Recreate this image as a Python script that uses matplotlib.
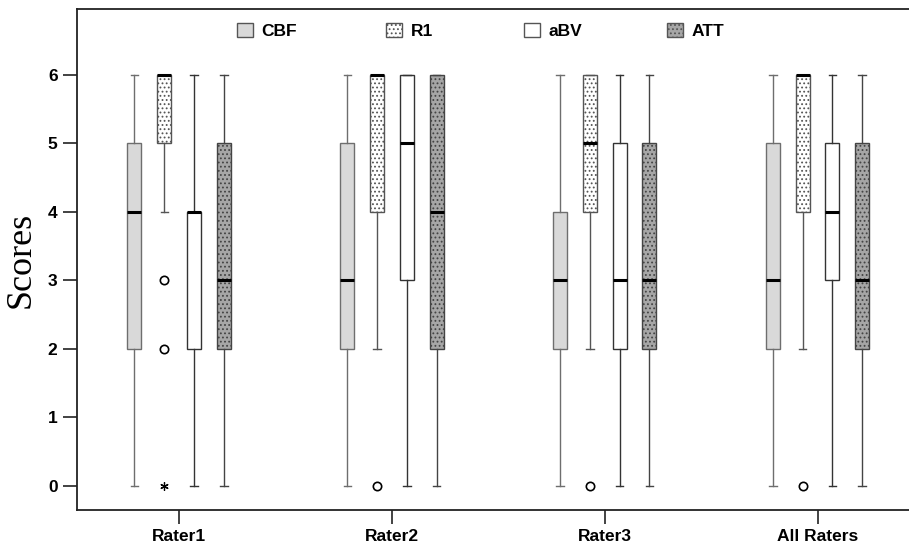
import matplotlib
matplotlib.use("Agg")
import matplotlib.pyplot as plt
from matplotlib.patches import Patch

groups = ["Rater1", "Rater2", "Rater3", "All Raters"]
series = ["CBF", "R1", "aBV", "ATT"]

# per series: lists across groups
whislo = {"CBF": [0, 0, 0, 0], "R1": [4, 2, 2, 2], "aBV": [0, 0, 0, 0], "ATT": [0, 0, 0, 0]}
q1 = {"CBF": [2, 2, 2, 2], "R1": [5, 4, 4, 4], "aBV": [2, 3, 2, 3], "ATT": [2, 2, 2, 2]}
med = {"CBF": [4, 3, 3, 3], "R1": [6, 6, 5, 6], "aBV": [4, 5, 3, 4], "ATT": [3, 4, 3, 3]}
q3 = {"CBF": [5, 5, 4, 5], "R1": [6, 6, 6, 6], "aBV": [4, 6, 5, 5], "ATT": [5, 6, 5, 5]}
whishi = {"CBF": [6, 6, 6, 6], "R1": [6, 6, 6, 6], "aBV": [6, 6, 6, 6], "ATT": [6, 6, 6, 6]}
outliers = {"CBF": [[], [], [], []], "R1": [[3, 2], [0], [0], [0]],
            "aBV": [[], [], [], []], "ATT": [[], [], [], []]}
extremes = {"R1": [[0], [], [], []]}

face = {"CBF": "#d9d9d9", "R1": "#ffffff", "aBV": "#ffffff", "ATT": "#a6a6a6"}
hatch = {"CBF": None, "R1": "....", "aBV": None, "ATT": "...."}
edge = {"CBF": "#6e6e6e", "R1": "#555555", "aBV": "#333333", "ATT": "#444444"}
offsets = [-0.21, -0.07, 0.07, 0.21]
legend_x_px = [237, 386, 524, 667]

plt.rcParams['hatch.linewidth'] = 0.8
W, H = 909, 547
fig = plt.figure(figsize=(W/100, H/100), dpi=100)
ax = fig.add_axes([77/W, 1-510/H, 1-77/W, (510-9)/H])

for si, s in enumerate(series):
    stats = []
    for gi in range(len(groups)):
        stats.append(dict(whislo=whislo[s][gi], q1=q1[s][gi], med=med[s][gi],
                          q3=q3[s][gi], whishi=whishi[s][gi], fliers=outliers[s][gi]))
    pos = [gi + offsets[si] for gi in range(len(groups))]
    bp = ax.bxp(stats, positions=pos, widths=0.066, patch_artist=True, showfliers=True,
                capwidths=0.035,
                boxprops=dict(facecolor=face[s], edgecolor=edge[s], linewidth=1.0, hatch=hatch[s]),
                medianprops=dict(color="black", linewidth=2.2),
                whiskerprops=dict(color=edge[s], linewidth=1.0),
                capprops=dict(color=edge[s], linewidth=1.0),
                flierprops=dict(marker="o", markersize=6, markerfacecolor="white",
                                markeredgecolor="black", markeredgewidth=1.2, linestyle="none"))
    for b in bp["boxes"]:
        b.set_zorder(2)
    if s in extremes:
        for gi, vals in enumerate(extremes[s]):
            for v in vals:
                ax.plot([gi + offsets[si]], [v], marker=(6, 2, 0), markersize=6,
                        color="black", markeredgewidth=0.9, linestyle="none")

ax.set_xlim(-0.48, 3.43)
ax.set_ylim(-0.35, 6.96)
ax.set_xticks(range(len(groups)))
ax.set_xticklabels(groups)
ax.set_yticks([0, 1, 2, 3, 4, 5, 6])
for lab in ax.get_xticklabels() + ax.get_yticklabels():
    lab.set_fontfamily("Liberation Sans")
    lab.set_fontweight("bold")
    lab.set_fontsize(12.5)
ax.tick_params(axis="both", length=10, width=1.2, color="#222222", pad=4)
ax.spines["right"].set_visible(False)
for sp in ["left", "top", "bottom"]:
    ax.spines[sp].set_linewidth(1.3)
    ax.spines[sp].set_color("#222222")
ax.set_ylabel("Scores", fontfamily="Liberation Serif", fontsize=26, labelpad=7)

legs = []
for si, s in enumerate(series):
    h = Patch(facecolor=face[s], edgecolor="#555555", hatch=hatch[s], label=s)
    leg = fig.legend(handles=[h], loc="center left",
                     bbox_to_anchor=(legend_x_px[si]/W, 1-31/H),
                     frameon=False, borderpad=0, borderaxespad=0, handlelength=0.92,
                     handleheight=0.92, handletextpad=0.5,
                     prop=dict(family="Liberation Sans", weight="bold", size=12.5))
    legs.append(leg)

fig.savefig("out.png", dpi=100)
